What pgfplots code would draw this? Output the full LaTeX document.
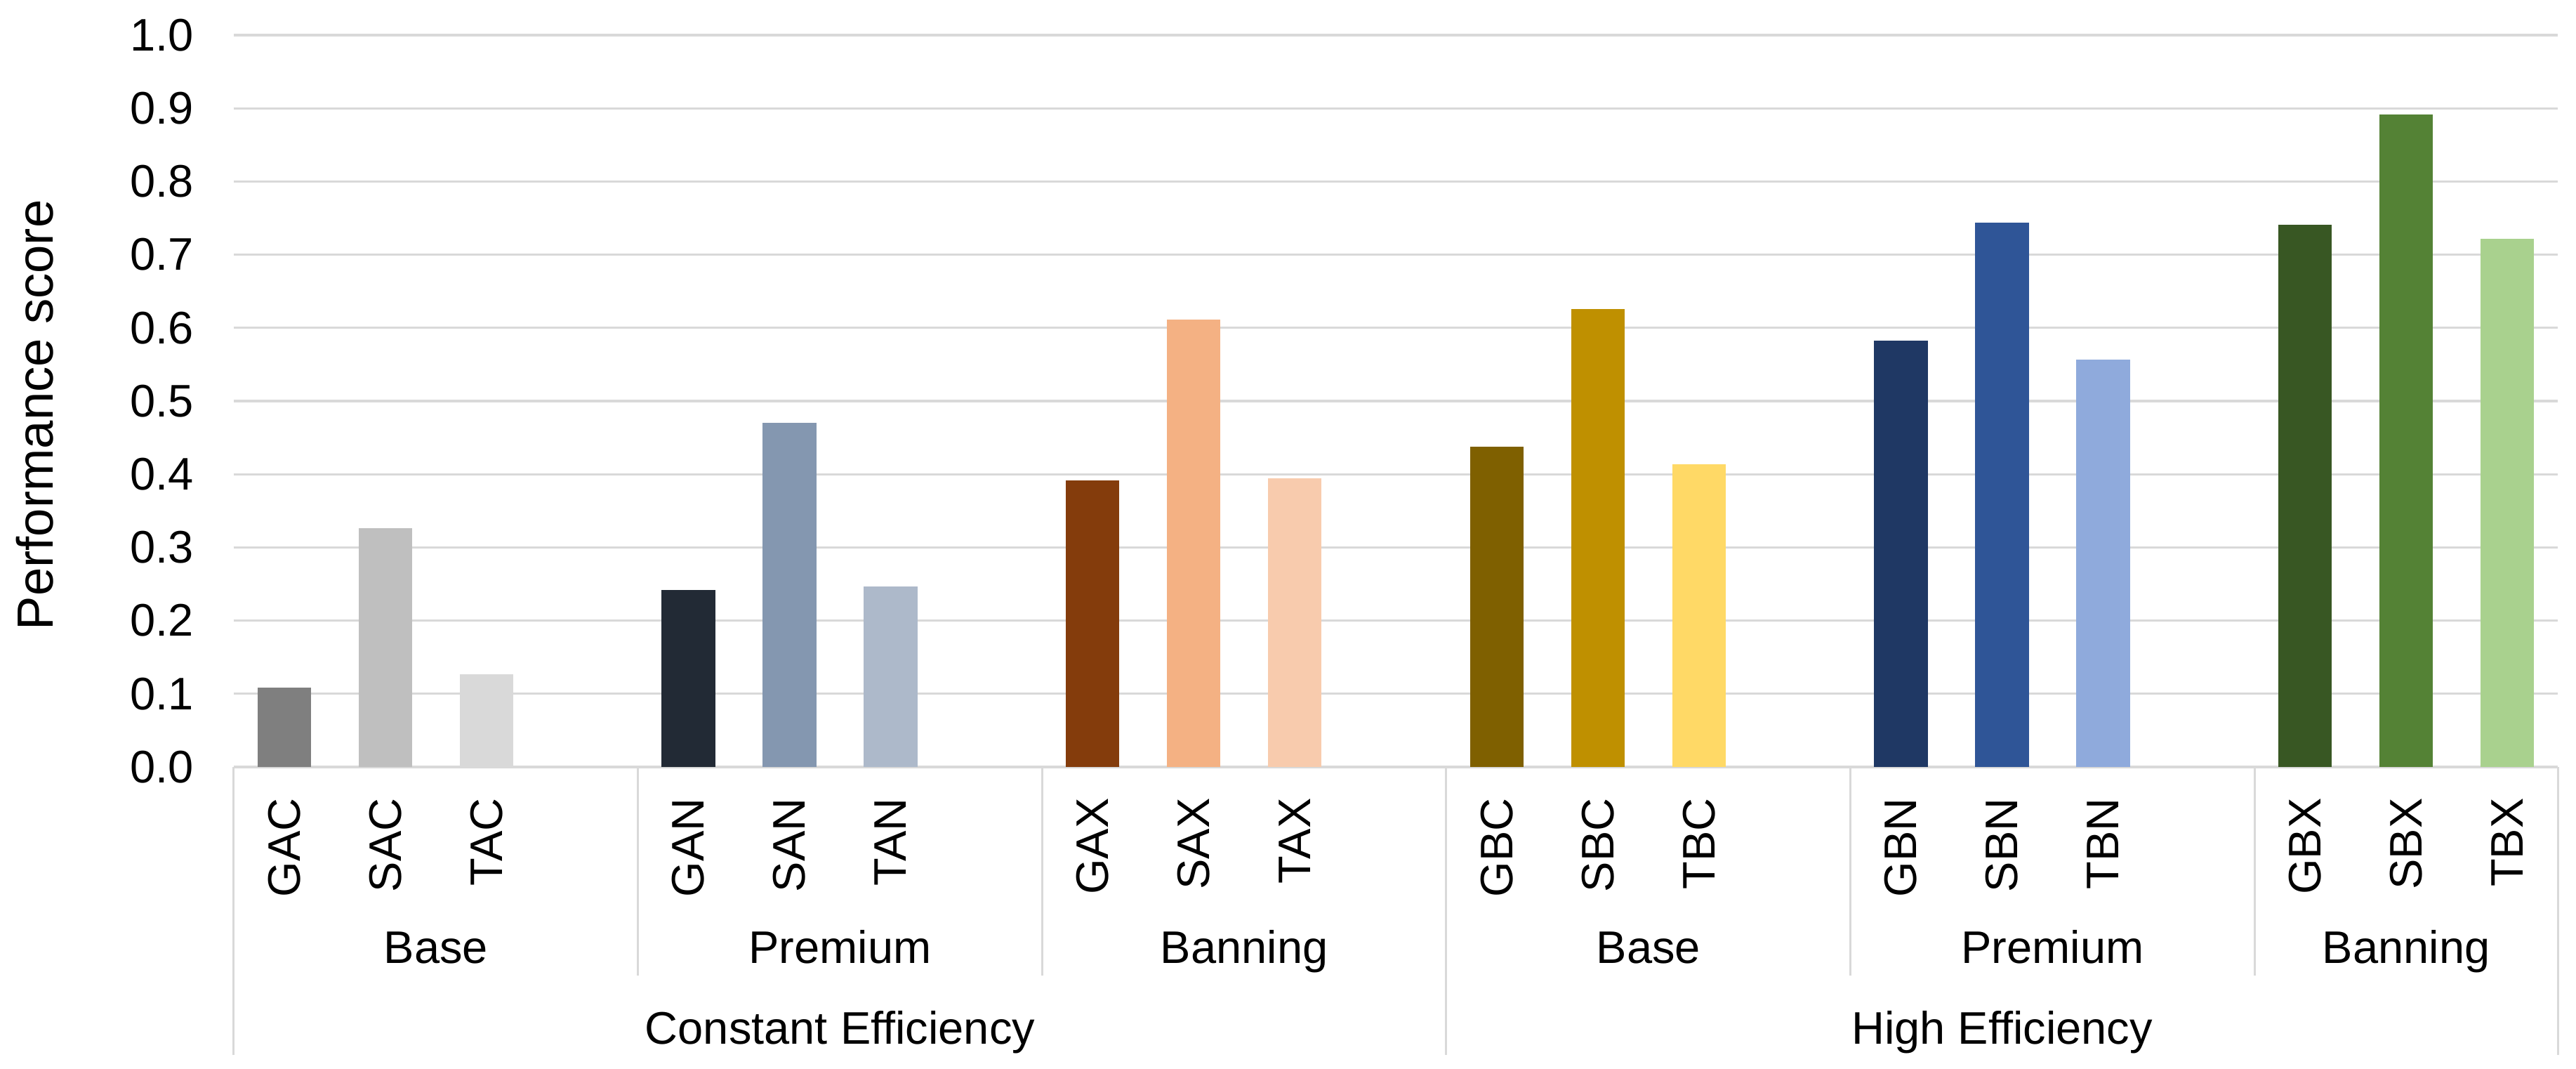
\documentclass[border=0pt]{standalone}
\usepackage{fontspec}
\setmainfont{Liberation Sans}
\usepackage{pgfplots}
\pgfplotsset{compat=1.18}

\definecolor{gridgray}{HTML}{D9D9D9}
\definecolor{cGAC}{HTML}{7F7F7F}
\definecolor{cSAC}{HTML}{BFBFBF}
\definecolor{cTAC}{HTML}{D9D9D9}
\definecolor{cGAN}{HTML}{222A35}
\definecolor{cSAN}{HTML}{8497B0}
\definecolor{cTAN}{HTML}{ADB9CA}
\definecolor{cGAX}{HTML}{843C0C}
\definecolor{cSAX}{HTML}{F4B183}
\definecolor{cTAX}{HTML}{F8CBAD}
\definecolor{cGBC}{HTML}{7F6000}
\definecolor{cSBC}{HTML}{BF9000}
\definecolor{cTBC}{HTML}{FFD966}
\definecolor{cGBN}{HTML}{1F3864}
\definecolor{cSBN}{HTML}{2F5597}
\definecolor{cTBN}{HTML}{8FAADC}
\definecolor{cGBX}{HTML}{385723}
\definecolor{cSBX}{HTML}{548235}
\definecolor{cTBX}{HTML}{A9D18E}

\newcommand{\lblfont}{\fontsize{13}{15.6}\selectfont}

\begin{document}
\begin{tikzpicture}
\pgfplotsset{
  chart/.style={
    scale only axis, width=662pt, height=208.4pt,
    xmin=-0.5, xmax=22.5, ymin=0, ymax=1,
    major tick length=0pt,
  },
  bb/.style={ybar, bar width=0.53, bar shift=0pt, draw=none, fill=#1},
}

% bars, y axis and first level of category labels
\begin{axis}[chart,
    clip=false,
    axis x line*=bottom, axis y line*=left,
    x axis line style={gridgray, line width=0.66pt},
    y axis line style={draw=none},
    ymajorgrids=true,
    grid style={gridgray, line width=0.66pt},
    ytick={0,0.1,0.2,0.3,0.4,0.5,0.6,0.7,0.8,0.9,1.0},
    scaled y ticks=false,
    yticklabel style={
        /pgf/number format/fixed,
        /pgf/number format/fixed zerofill,
        /pgf/number format/precision=1,
        /pgf/number format/assume math mode=true,
        font=\lblfont, anchor=east, inner sep=0pt},
    yticklabel shift=11.2pt,
    xtick={0,1,2,4,5,6,8,9,10,12,13,14,16,17,18,20,21,22},
    xticklabels={GAC,SAC,TAC,GAN,SAN,TAN,GAX,SAX,TAX,
                 GBC,SBC,TBC,GBN,SBN,TBN,GBX,SBX,TBX},
    xticklabel style={rotate=90, anchor=east, inner sep=0pt, font=\lblfont},
    xticklabel shift=8.7pt,
    ylabel={Performance score},
    ylabel style={font=\fontsize{14.5}{17}\selectfont,
        at={(axis description cs:-0.0773,0.481)}, anchor=south, inner sep=0pt},
]
\addplot[bb=cGAC] coordinates {(0,0.108)};
\addplot[bb=cSAC] coordinates {(1,0.326)};
\addplot[bb=cTAC] coordinates {(2,0.127)};
\addplot[bb=cGAN] coordinates {(4,0.242)};
\addplot[bb=cSAN] coordinates {(5,0.470)};
\addplot[bb=cTAN] coordinates {(6,0.247)};
\addplot[bb=cGAX] coordinates {(8,0.392)};
\addplot[bb=cSAX] coordinates {(9,0.611)};
\addplot[bb=cTAX] coordinates {(10,0.394)};
\addplot[bb=cGBC] coordinates {(12,0.438)};
\addplot[bb=cSBC] coordinates {(13,0.626)};
\addplot[bb=cTBC] coordinates {(14,0.414)};
\addplot[bb=cGBN] coordinates {(16,0.583)};
\addplot[bb=cSBN] coordinates {(17,0.744)};
\addplot[bb=cTBN] coordinates {(18,0.557)};
\addplot[bb=cGBX] coordinates {(20,0.741)};
\addplot[bb=cSBX] coordinates {(21,0.892)};
\addplot[bb=cTBX] coordinates {(22,0.722)};
% category separators
\pgfplotsinvokeforeach{3.5,7.5,15.5,19.5}{
  \draw[gridgray, line width=0.6pt] (axis cs:#1,0) -- ++(0pt,-59.4pt);
}
\pgfplotsinvokeforeach{-0.5,11.5,22.5}{
  \draw[gridgray, line width=0.6pt] (axis cs:#1,0) -- ++(0pt,-82pt);
}
\end{axis}

% second level of category labels
\begin{axis}[chart,
    axis y line=none, axis x line*=bottom,
    x axis line style={draw=none},
    ytick=\empty,
    xtick={1.5,5.5,9.5,13.5,17.5,21},
    xticklabels={Base,Premium,Banning,Base,Premium,Banning},
    xticklabel style={anchor=base, inner sep=0pt, font=\lblfont},
    xticklabel shift=56pt,
]
\end{axis}

% third level of category labels
\begin{axis}[chart,
    axis y line=none, axis x line*=bottom,
    x axis line style={draw=none},
    ytick=\empty,
    xtick={5.5,17},
    xticklabels={Constant Efficiency,High Efficiency},
    xticklabel style={anchor=base, inner sep=0pt, font=\lblfont},
    xticklabel shift=79pt,
]
\end{axis}

\pgfresetboundingbox
\useasboundingbox (-66.6pt,-86pt) rectangle (667.2pt,218.4pt);
\end{tikzpicture}
\end{document}
